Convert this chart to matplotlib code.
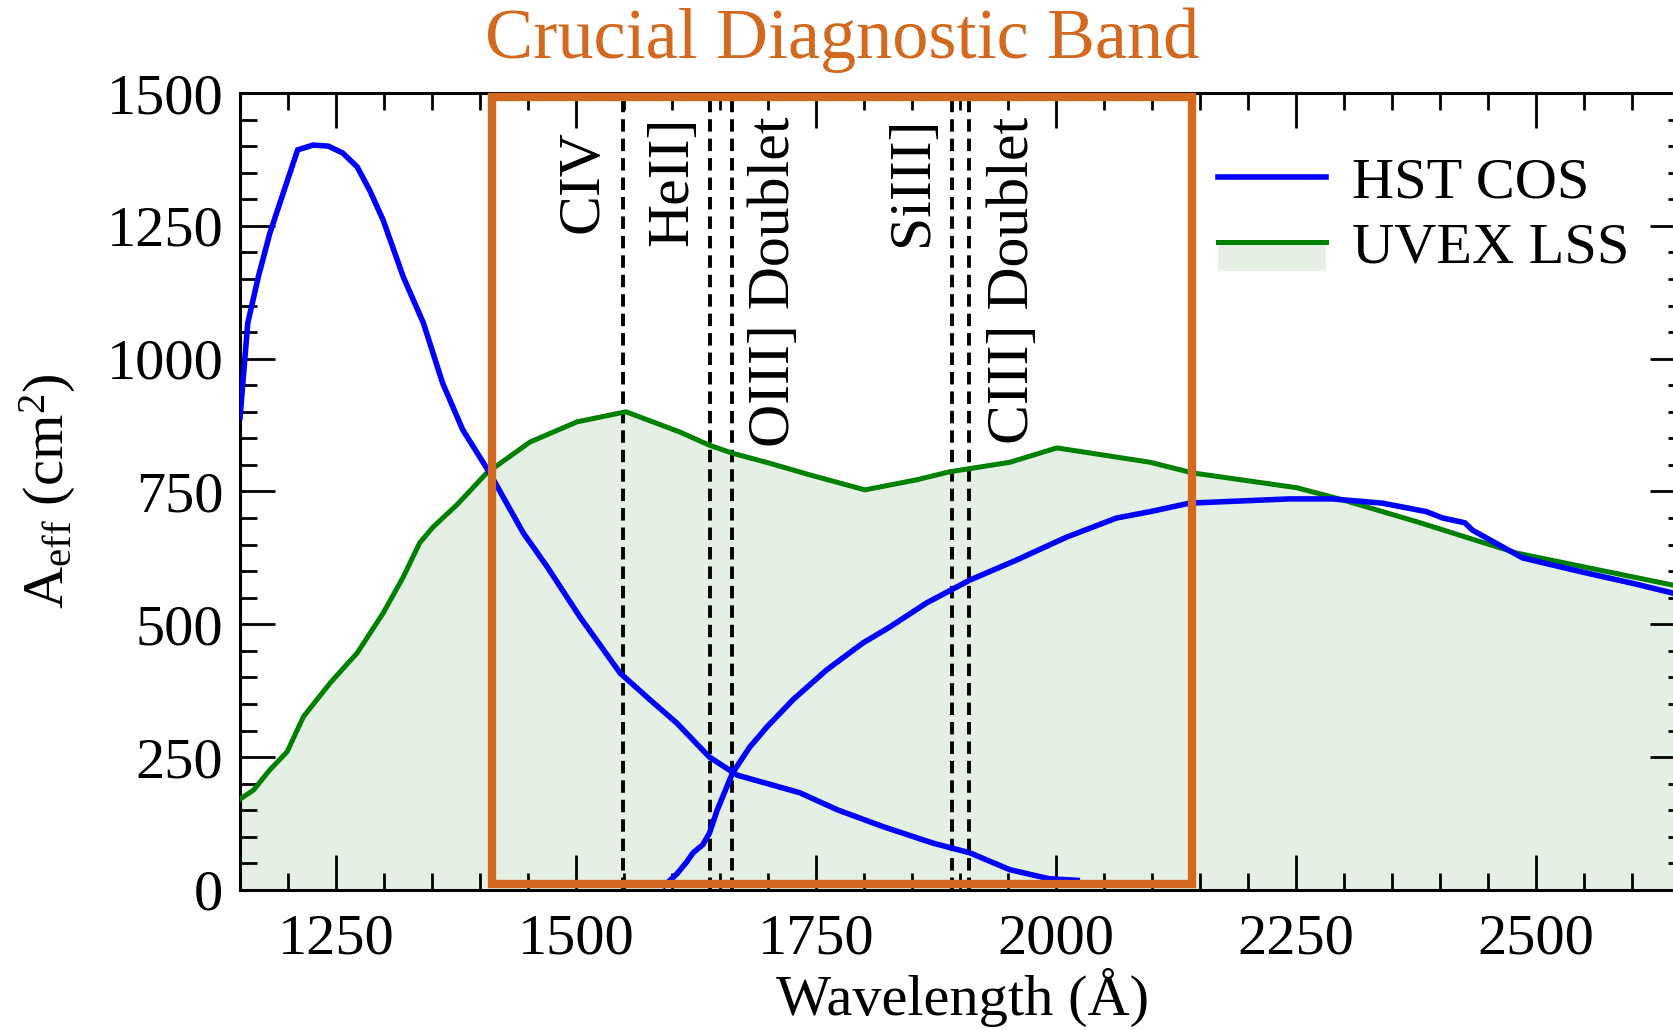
import matplotlib
matplotlib.use("Agg")
import matplotlib.pyplot as plt
from matplotlib.patches import Rectangle
from matplotlib.lines import Line2D
from matplotlib.legend_handler import HandlerBase
from matplotlib.ticker import MultipleLocator

plt.rcParams['font.family'] = ['Liberation Serif', 'DejaVu Serif']
plt.rcParams['mathtext.fontset'] = 'custom'
plt.rcParams['mathtext.rm'] = 'Liberation Serif'
plt.rcParams['mathtext.it'] = 'Liberation Serif:italic'

# HST COS effective area, two pieces (FUV and NUV side)
cos_fuv_wave = [1150, 1158, 1169, 1181, 1195, 1210, 1226, 1242, 1257, 1272, 1285, 1299,
                1320, 1341, 1361, 1382, 1410, 1445, 1470, 1504, 1546, 1577, 1605, 1639,
                1668, 1733, 1772, 1820, 1872, 1910, 1952, 1993, 2022]
cos_fuv_aeff = [890, 1067, 1154, 1236, 1312, 1393, 1402, 1400, 1387, 1361, 1317, 1261,
                1154, 1067, 954, 866, 785, 672, 608, 514, 408, 358, 314, 250,
                216, 183, 151, 119, 88, 70, 38, 21, 18]

cos_nuv_wave = [1592, 1605, 1615, 1622, 1632, 1639, 1647, 1663, 1681, 1699, 1726, 1761,
                1799, 1827, 1865, 1910, 1959, 2011, 2063, 2098, 2139, 2243, 2288, 2340,
                2386, 2403, 2426, 2434, 2486, 2549, 2601, 2642, 2660]
cos_nuv_aeff = [8, 30, 52, 70, 85, 107, 150, 220, 269, 307, 358, 414,
                465, 495, 540, 583, 621, 664, 700, 712, 728, 736, 736, 728,
                712, 700, 691, 677, 625, 598, 577, 559, 552]

# UVEX LSS effective area
uvex_wave = [1150, 1164, 1181, 1199, 1216, 1244, 1272, 1299, 1320, 1337, 1351, 1376,
             1407, 1452, 1501, 1552, 1608, 1639, 1663, 1702, 1744, 1801, 1855, 1889,
             1952, 2001, 2098, 2142, 2251, 2299, 2376, 2480, 2642, 2660]
uvex_aeff = [171, 188, 226, 260, 326, 390, 446, 521, 589, 653, 683, 725,
             785, 843, 881, 900, 862, 837, 822, 803, 781, 753, 772, 787,
             805, 832, 805, 785, 757, 734, 693, 634, 574, 570]

# emission lines
line_wave = [1549, 1640, 1663, 1892, 1909]
label_text = ['CIV', 'HeII]', 'OIII] Doublet', 'SiIII]', 'CIII] Doublet']
label_x = [1508, 1601, 1707, 1851, 1956]
label_top = [1430, 1455, 1455, 1455, 1455]

band_lo, band_hi = 1412, 2142

orange = '#D2691E'


class FillLineHandler(HandlerBase):
    # line on top of a light filled box, like the fill_between in the plot
    def create_artists(self, legend, orig_handle, xdescent, ydescent,
                       width, height, fontsize, trans):
        ymid = height / 2 - ydescent
        box = Rectangle((-xdescent, ymid - 0.5 * fontsize), width, 0.5 * fontsize,
                        facecolor='#E4F0E4', edgecolor='none', transform=trans)
        ln = Line2D([-xdescent, -xdescent + width], [ymid, ymid],
                    color='green', lw=3.6, transform=trans)
        return [box, ln]


fig = plt.figure(figsize=(16.73, 10.30), dpi=100)
ax = fig.add_axes([0.1435, 0.136, 0.8635, 0.7737])

ax.fill_between(uvex_wave, uvex_aeff, 0, color='#E4F0E4', lw=0, zorder=1)
ax.plot(uvex_wave, uvex_aeff, color='green', lw=3.6, zorder=3)
ax.plot(cos_fuv_wave, cos_fuv_aeff, color='blue', lw=4, zorder=4)
ax.plot(cos_nuv_wave, cos_nuv_aeff, color='blue', lw=4, zorder=4)

for w in line_wave:
    ax.axvline(w, color='black', lw=2.8, ls=(0, (3.2, 1.8)), zorder=2)
for x, y, t in zip(label_x, label_top, label_text):
    ax.text(x, y, t, rotation=90, ha='center', va='top', fontsize=43, zorder=5)

ax.add_patch(Rectangle((band_lo, 12), band_hi - band_lo, 1480, fill=False,
                       edgecolor=orange, lw=6, zorder=6, clip_on=False))
ax.text((band_lo + band_hi) / 2, 1.066, 'Crucial Diagnostic Band', color=orange,
        fontsize=52, ha='center', va='center', transform=ax.get_xaxis_transform())

ax.set_xlim(1150, 2655)
ax.set_ylim(0, 1500)
ax.xaxis.set_major_locator(MultipleLocator(250))
ax.xaxis.set_minor_locator(MultipleLocator(50))
ax.yaxis.set_major_locator(MultipleLocator(250))
ax.yaxis.set_minor_locator(MultipleLocator(50))
ax.tick_params(which='both', direction='in', top=True, right=True, width=2,
               labelsize=42, pad=12)
ax.tick_params(axis='x', which='both', pad=17)
ax.tick_params(which='major', length=25)
ax.tick_params(which='minor', length=12)
for s in ax.spines.values():
    s.set_linewidth(2.2)

ax.set_xlabel('Wavelength (Å)', fontsize=42)
ax.set_ylabel(r'$\mathrm{A_{eff}}$ (cm$^2$)', fontsize=42)
ax.xaxis.set_label_coords(0.5, -0.098)
ax.yaxis.set_label_coords(-0.112, 0.5)

hst = Line2D([], [], color='blue', lw=4)
uvex = Rectangle((0, 0), 1, 1)
ax.legend([hst, uvex], ['HST COS', 'UVEX LSS'], handler_map={Rectangle: FillLineHandler()},
          loc='upper left', bbox_to_anchor=(0.677, 0.92), frameon=False, fontsize=42,
          borderpad=0, borderaxespad=0, handlelength=1.85, handletextpad=0.45,
          labelspacing=0.2)

fig.savefig('out.png', dpi=100)
